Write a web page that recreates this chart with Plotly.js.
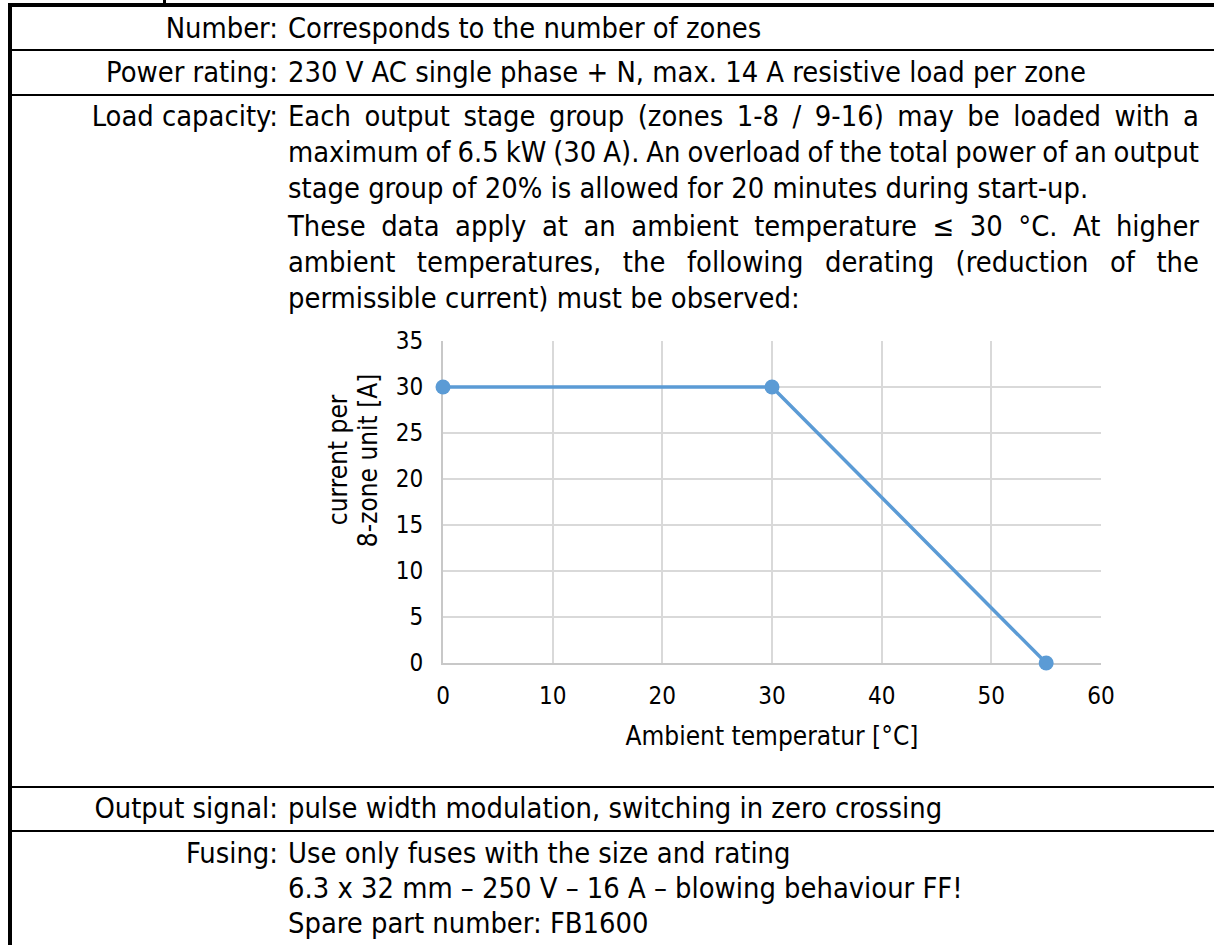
<!DOCTYPE html>
<html>
<head>
<meta charset="utf-8">
<script src="https://cdn.plot.ly/plotly-3.0.1.min.js"></script>
<style>
  html, body { margin: 0; padding: 0; background: #fff; }
  body { width: 1214px; height: 945px; position: relative; overflow: hidden;
         font-family: "DejaVu Sans Condensed", "DejaVu Sans", sans-serif; font-size: 28.8px; color: #000; }
  .bar { position: absolute; background: #000; }
  .lab { position: absolute; left: 0; width: 278px; text-align: right; line-height: 36px; white-space: nowrap; }
  .val { position: absolute; left: 288px; line-height: 36px; white-space: nowrap; }
  .jus { position: absolute; left: 288px; line-height: 36px; white-space: nowrap; }
  #chart { position: absolute; left: 240px; top: 320px; width: 900px; height: 440px; }
</style>
</head>
<body>
<div class="bar" style="left:163px;top:0;width:3px;height:4px"></div>
<div class="bar" style="left:8px;top:3px;width:1206px;height:4px"></div>
<div class="bar" style="left:8px;top:3px;width:4px;height:942px"></div>
<div class="bar" style="left:8px;top:49px;width:1206px;height:2px"></div>
<div class="bar" style="left:8px;top:94px;width:1206px;height:2px"></div>
<div class="bar" style="left:8px;top:786px;width:1206px;height:2px"></div>
<div class="bar" style="left:8px;top:830px;width:1206px;height:2px"></div>

<div class="lab" style="top:10px">Number:</div>
<div class="val" style="top:10px">Corresponds to the number of zones</div>
<div class="lab" style="top:54px">Power rating:</div>
<div class="val" style="top:54px">230 V AC single phase + N, max. 14 A resistive load per zone</div>
<div class="lab" style="top:98px">Load capacity:</div>
<div class="jus" style="top:98px">Each output stage group (zones 1-8 / 9-16) may be loaded with a</div>
<div class="jus" style="top:134px">maximum of 6.5 kW (30 A). An overload of the total power of an output</div>
<div class="val" style="top:170px">stage group of 20% is allowed for 20 minutes during start-up.</div>
<div class="jus" style="top:208px">These data apply at an ambient temperature ≤ 30 °C. At higher</div>
<div class="jus" style="top:244px">ambient temperatures, the following derating (reduction of the</div>
<div class="val" style="top:280px">permissible current) must be observed:</div>

<div id="chart"></div>

<div class="lab" style="top:790px">Output signal:</div>
<div class="val" style="top:790px">pulse width modulation, switching in zero crossing</div>
<div class="lab" style="top:835px">Fusing:</div>
<div class="val" style="top:835px">Use only fuses with the size and rating</div>
<div class="val" style="top:870px">6.3 x 32 mm – 250 V – 16 A – blowing behaviour FF!</div>
<div class="val" style="top:905px">Spare part number: FB1600</div>

<script>
const temperature = [0, 30, 55];
const current = [30, 30, 0];
const xTicks = [0, 10, 20, 30, 40, 50, 60];
const yTicks = [0, 5, 10, 15, 20, 25, 30, 35];
const xTitle = "Ambient temperatur [°C]";
const yTitleLines = ["current per", "8-zone unit [A]"];

// stretch or squeeze justified lines to the column width
const colWidth = 911;
document.querySelectorAll(".jus").forEach(el => {
  const txt = el.textContent;
  const gaps = (txt.match(/ /g) || []).length;
  const natural = el.getBoundingClientRect().width;
  if (gaps > 0) el.style.wordSpacing = ((colWidth - natural) / gaps) + "px";
});

const fnt = "DejaVu Sans Condensed, DejaVu Sans, sans-serif";
const trace = {
  x: temperature, y: current, type: "scatter", mode: "lines+markers",
  line: { color: "#5b9bd5", width: 3.5 },
  marker: { color: "#5b9bd5", size: 15 },
  cliponaxis: false, hoverinfo: "skip"
};
const layout = {
  width: 900, height: 440,
  margin: { l: 203, r: 39, t: 21, b: 97 },
  paper_bgcolor: "rgba(0,0,0,0)", plot_bgcolor: "rgba(0,0,0,0)",
  showlegend: false,
  font: { family: fnt, size: 24, color: "#000" },
  xaxis: {
    range: [0, 60], tickvals: xTicks, ticktext: xTicks.map(String),
    showgrid: true, gridcolor: "#d9d9d9", gridwidth: 2,
    showline: true, linecolor: "#c8c8c8", linewidth: 2,
    zeroline: false, ticks: "", ticklabelstandoff: 10, layer: "below traces",
    title: { text: xTitle, font: { size: 26 }, standoff: 18 }
  },
  yaxis: {
    range: [0, 35], tickvals: yTicks, ticktext: yTicks.map(String),
    showgrid: true, gridcolor: "#d9d9d9", gridwidth: 2,
    showline: true, linecolor: "#c8c8c8", linewidth: 2,
    zeroline: false, ticks: "", ticklabelstandoff: 13, layer: "below traces"
  },
  annotations: yTitleLines.map((t, i) => ({
    text: t, xref: "paper", yref: "paper", x: 0, y: 0.63,
    xshift: i === 0 ? -105 : -75, xanchor: "center", yanchor: "middle", textangle: -90,
    showarrow: false, font: { size: 26, color: "#000" }
  }))
};
Plotly.newPlot("chart", [trace], layout, { displayModeBar: false, staticPlot: true });
</script>
</body>
</html>
